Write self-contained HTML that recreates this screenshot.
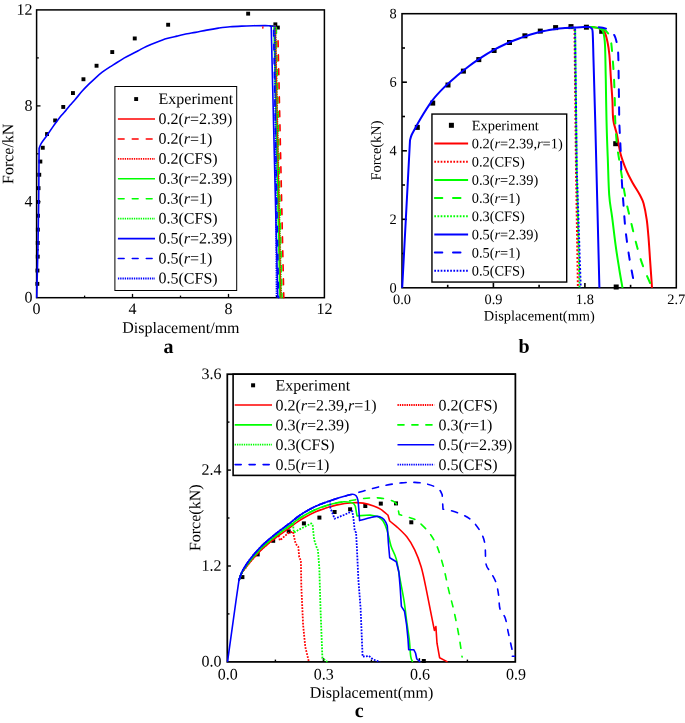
<!DOCTYPE html>
<html><head><meta charset="utf-8"><title>Force-displacement curves</title>
<style>
html,body{margin:0;padding:0;background:#fff;}
body{width:685px;height:723px;overflow:hidden;}
svg{display:block;font-family:"Liberation Serif",serif;fill:#000;will-change:transform;transform:translateZ(0);}
</style></head><body>
<svg width="685" height="723" viewBox="0 0 685 723">
<rect width="685" height="723" fill="#fff"/>
<g id="a">
<rect x="36.6" y="9.9" width="287.8" height="287.8" fill="none" stroke="#000" stroke-width="1.5"/>
<line x1="84.6" y1="297.8" x2="84.6" y2="295.6" stroke="#000" stroke-width="1.3"/>
<line x1="132.5" y1="297.8" x2="132.5" y2="293.9" stroke="#000" stroke-width="1.3"/>
<line x1="180.5" y1="297.8" x2="180.5" y2="295.6" stroke="#000" stroke-width="1.3"/>
<line x1="228.5" y1="297.8" x2="228.5" y2="293.9" stroke="#000" stroke-width="1.3"/>
<line x1="276.5" y1="297.8" x2="276.5" y2="295.6" stroke="#000" stroke-width="1.3"/>
<line x1="36.6" y1="249.8" x2="38.8" y2="249.8" stroke="#000" stroke-width="1.3"/>
<line x1="36.6" y1="201.8" x2="40.5" y2="201.8" stroke="#000" stroke-width="1.3"/>
<line x1="36.6" y1="153.8" x2="38.8" y2="153.8" stroke="#000" stroke-width="1.3"/>
<line x1="36.6" y1="105.9" x2="40.5" y2="105.9" stroke="#000" stroke-width="1.3"/>
<line x1="36.6" y1="57.9" x2="38.8" y2="57.9" stroke="#000" stroke-width="1.3"/>
<rect x="40.8" y="145.8" width="3.9" height="3.9" fill="#000"/>
<rect x="38.4" y="159.6" width="3.9" height="3.9" fill="#000"/>
<rect x="37.3" y="172.8" width="3.9" height="3.9" fill="#000"/>
<rect x="36.6" y="186.2" width="3.9" height="3.9" fill="#000"/>
<rect x="36.2" y="200" width="3.9" height="3.9" fill="#000"/>
<rect x="36" y="213.8" width="3.9" height="3.9" fill="#000"/>
<rect x="35.9" y="227.7" width="3.9" height="3.9" fill="#000"/>
<rect x="35.8" y="241" width="3.9" height="3.9" fill="#000"/>
<rect x="35.8" y="254.7" width="3.9" height="3.9" fill="#000"/>
<rect x="35.5" y="268.6" width="3.9" height="3.9" fill="#000"/>
<rect x="35.4" y="281.9" width="3.9" height="3.9" fill="#000"/>
<rect x="45.1" y="132.1" width="3.9" height="3.9" fill="#000"/>
<rect x="53.2" y="118.5" width="3.9" height="3.9" fill="#000"/>
<rect x="61.3" y="105" width="3.9" height="3.9" fill="#000"/>
<rect x="71" y="91.1" width="3.9" height="3.9" fill="#000"/>
<rect x="81.5" y="77.3" width="3.9" height="3.9" fill="#000"/>
<rect x="94.6" y="63.8" width="3.9" height="3.9" fill="#000"/>
<rect x="110.3" y="50.1" width="3.9" height="3.9" fill="#000"/>
<rect x="132.8" y="36.5" width="3.9" height="3.9" fill="#000"/>
<rect x="166.2" y="22.8" width="3.9" height="3.9" fill="#000"/>
<rect x="246.2" y="11.7" width="3.9" height="3.9" fill="#000"/>
<rect x="273.4" y="22.4" width="3.9" height="3.9" fill="#000"/>
<rect x="275.9" y="25.6" width="3.9" height="3.9" fill="#000"/>
<path d="M269.7 25.8 L275 26.2 L280.6 297.8" fill="none" stroke="#ff0000" stroke-width="1.6" stroke-linejoin="round"/>
<path d="M269.7 25.8 L274 26.2 L280 297.8" fill="none" stroke="#00ff00" stroke-width="1.6" stroke-linejoin="round"/>
<path d="M269.7 25.8 L276.3 26.2 L282 297.8" fill="none" stroke="#00ff00" stroke-width="1.6" stroke-dasharray="5.8 8.2" stroke-linecap="round" stroke-dashoffset="6.1" stroke-linejoin="round"/>
<path d="M269.7 25.8 L275.3 26.2 L281.3 297.8" fill="none" stroke="#00ff00" stroke-width="1.79" stroke-dasharray="1.35 0.93" stroke-dashoffset="2" stroke-linejoin="round"/>
<path d="M269.7 25.8 L275.6 26.2 L280.9 297.8" fill="none" stroke="#ff0000" stroke-width="1.23" stroke-dasharray="1.35 0.93" stroke-dashoffset="2" stroke-linejoin="round"/>
<path d="M277.9 34 L283.8 297.8" fill="none" stroke="#ff0000" stroke-width="1.6" stroke-dasharray="5.8 8.2" stroke-linecap="round" stroke-dashoffset="7.1" stroke-linejoin="round"/>
<path d="M269.7 25.8 L273.5 26.2 L278.6 297.8" fill="none" stroke="#0000ff" stroke-width="1.6" stroke-dasharray="5.8 8.2" stroke-linecap="round" stroke-dashoffset="6.1" stroke-linejoin="round"/>
<path d="M36.7 297.8 L37.9 250 L38.7 202 L39 162 L39.1 148.4 C39.4 147.6 39.9 145.6 41.1 143.6 C42.3 141.6 44.5 138.9 46.4 136.2 C48.3 133.5 50.8 129.9 52.5 127.4 C54.2 124.9 55.4 123.3 56.9 121.3 C58.4 119.3 59.8 117.4 61.3 115.6 C62.8 113.8 64.2 112.3 65.7 110.6 C67.2 108.9 68.5 107.1 70 105.3 C71.5 103.5 73 102 75 99.7 C77 97.4 79.8 93.8 82 91.3 C84.2 88.8 85.9 87.1 88.1 84.9 C90.3 82.7 92.8 80.4 95.1 78.3 C97.4 76.2 99.7 74.1 102.2 72.2 C104.7 70.3 107.5 68.5 110 66.9 C112.5 65.3 114.7 64 117 62.5 C119.3 61 121.8 59.4 124 58.1 C126.2 56.9 127.6 56.2 130 55 C132.4 53.8 135.5 52.1 138.2 50.7 C140.9 49.3 143.2 47.8 146.3 46.4 C149.4 45 153.2 43.5 156.6 42.2 C160 40.9 163.4 39.6 166.8 38.6 C170.2 37.6 173.6 36.9 177 36.1 C180.4 35.3 184.1 34.4 187.2 33.8 C190.3 33.2 192.2 33 195.4 32.4 C198.7 31.8 202.9 30.8 206.7 30.1 C210.5 29.4 214.5 28.7 218.4 28.1 C222.3 27.6 226.1 27.1 230 26.8 C233.9 26.5 237.8 26.3 241.7 26.1 C245.6 25.9 249.5 25.8 253.4 25.7 C257.3 25.6 262.4 25.6 265.1 25.6 C267.8 25.6 268.9 25.8 269.7 25.8 L271.2 26.2 L277.8 297.8" fill="none" stroke="#0000ff" stroke-width="1.6" stroke-linejoin="round"/>
<path d="M269.7 25.8 L274.8 26.2 L276.6 297.8" fill="none" stroke="#0000ff" stroke-width="1.79" stroke-dasharray="1.35 0.93" stroke-dashoffset="2" stroke-linejoin="round"/>
<path d="M262.8 26.4 L262.9 28.6" fill="none" stroke="#ff0000" stroke-width="1.4" stroke-linejoin="round"/>
<text transform="translate(36.60 314.00) rotate(0.03)" font-size="16" text-anchor="middle" font-weight="normal">0</text>
<text transform="translate(32.40 302.55) rotate(0.03)" font-size="16" text-anchor="end" font-weight="normal">0</text>
<text transform="translate(132.55 314.00) rotate(0.03)" font-size="16" text-anchor="middle" font-weight="normal">4</text>
<text transform="translate(32.40 206.62) rotate(0.03)" font-size="16" text-anchor="end" font-weight="normal">4</text>
<text transform="translate(228.50 314.00) rotate(0.03)" font-size="16" text-anchor="middle" font-weight="normal">8</text>
<text transform="translate(32.40 110.68) rotate(0.03)" font-size="16" text-anchor="end" font-weight="normal">8</text>
<text transform="translate(324.45 314.00) rotate(0.03)" font-size="16" text-anchor="middle" font-weight="normal">12</text>
<text transform="translate(32.40 14.75) rotate(0.03)" font-size="16" text-anchor="end" font-weight="normal">12</text>
<text transform="translate(13.30 153.80) rotate(-89.97)" font-size="16" text-anchor="middle">Force/kN</text>
<text transform="translate(180.90 332.90) rotate(0.03)" font-size="16" text-anchor="middle" font-weight="normal">Displacement/mm</text>
<text transform="translate(168.50 353.00) rotate(0.03)" font-size="20" text-anchor="middle" font-weight="bold">a</text>
<rect x="114.9" y="86.5" width="121.8" height="204" fill="#fff" stroke="#000" stroke-width="1"/>
<rect x="134.2" y="97.1" width="3.9" height="3.9" fill="#000"/>
<text transform="translate(158.50 104.00) rotate(0.03)" font-size="16" text-anchor="start" font-weight="normal">Experiment</text>
<path d="M117.9 119 L155 119" fill="none" stroke="#ff0000" stroke-width="1.6" stroke-linejoin="round"/>
<text transform="translate(158.50 123.93) rotate(0.03)" font-size="16" text-anchor="start" font-weight="normal">0.2(<tspan font-style="italic">r</tspan>=2.39)</text>
<path d="M118.3 139 L155 139" fill="none" stroke="#ff0000" stroke-width="1.6" stroke-dasharray="5.8 8.2" stroke-linecap="round" stroke-linejoin="round"/>
<text transform="translate(158.50 143.86) rotate(0.03)" font-size="16" text-anchor="start" font-weight="normal">0.2(<tspan font-style="italic">r</tspan>=1)</text>
<path d="M117.9 158.9 L155 158.9" fill="none" stroke="#ff0000" stroke-width="1.79" stroke-dasharray="1.35 0.93" stroke-linejoin="round"/>
<text transform="translate(158.50 163.79) rotate(0.03)" font-size="16" text-anchor="start" font-weight="normal">0.2(CFS)</text>
<path d="M117.9 178.8 L155 178.8" fill="none" stroke="#00ff00" stroke-width="1.6" stroke-linejoin="round"/>
<text transform="translate(158.50 183.72) rotate(0.03)" font-size="16" text-anchor="start" font-weight="normal">0.3(<tspan font-style="italic">r</tspan>=2.39)</text>
<path d="M118.3 198.8 L155 198.8" fill="none" stroke="#00ff00" stroke-width="1.6" stroke-dasharray="5.8 8.2" stroke-linecap="round" stroke-linejoin="round"/>
<text transform="translate(158.50 203.65) rotate(0.03)" font-size="16" text-anchor="start" font-weight="normal">0.3(<tspan font-style="italic">r</tspan>=1)</text>
<path d="M117.9 218.7 L155 218.7" fill="none" stroke="#00ff00" stroke-width="1.79" stroke-dasharray="1.35 0.93" stroke-linejoin="round"/>
<text transform="translate(158.50 223.58) rotate(0.03)" font-size="16" text-anchor="start" font-weight="normal">0.3(CFS)</text>
<path d="M117.9 238.6 L155 238.6" fill="none" stroke="#0000ff" stroke-width="1.6" stroke-linejoin="round"/>
<text transform="translate(158.50 243.51) rotate(0.03)" font-size="16" text-anchor="start" font-weight="normal">0.5(<tspan font-style="italic">r</tspan>=2.39)</text>
<path d="M118.3 258.5 L155 258.5" fill="none" stroke="#0000ff" stroke-width="1.6" stroke-dasharray="5.8 8.2" stroke-linecap="round" stroke-linejoin="round"/>
<text transform="translate(158.50 263.44) rotate(0.03)" font-size="16" text-anchor="start" font-weight="normal">0.5(<tspan font-style="italic">r</tspan>=1)</text>
<path d="M117.9 278.5 L155 278.5" fill="none" stroke="#0000ff" stroke-width="1.79" stroke-dasharray="1.35 0.93" stroke-linejoin="round"/>
<text transform="translate(158.50 283.37) rotate(0.03)" font-size="16" text-anchor="start" font-weight="normal">0.5(CFS)</text>
</g>
<g id="b">
<rect x="402" y="13.7" width="274.3" height="274.1" fill="none" stroke="#000" stroke-width="1.55"/>
<line x1="447.7" y1="287.8" x2="447.7" y2="284.8" stroke="#000" stroke-width="1.6"/>
<line x1="493.4" y1="287.8" x2="493.4" y2="282.9" stroke="#000" stroke-width="1.6"/>
<line x1="539.1" y1="287.8" x2="539.1" y2="284.8" stroke="#000" stroke-width="1.6"/>
<line x1="584.9" y1="287.8" x2="584.9" y2="282.9" stroke="#000" stroke-width="1.6"/>
<line x1="630.6" y1="287.8" x2="630.6" y2="284.8" stroke="#000" stroke-width="1.6"/>
<line x1="402" y1="253.5" x2="405" y2="253.5" stroke="#000" stroke-width="1.6"/>
<line x1="402" y1="219.3" x2="406.9" y2="219.3" stroke="#000" stroke-width="1.6"/>
<line x1="402" y1="185" x2="405" y2="185" stroke="#000" stroke-width="1.6"/>
<line x1="402" y1="150.8" x2="406.9" y2="150.8" stroke="#000" stroke-width="1.6"/>
<line x1="402" y1="116.5" x2="405" y2="116.5" stroke="#000" stroke-width="1.6"/>
<line x1="402" y1="82.2" x2="406.9" y2="82.2" stroke="#000" stroke-width="1.6"/>
<line x1="402" y1="48" x2="405" y2="48" stroke="#000" stroke-width="1.6"/>
<rect x="414.8" y="124.9" width="5" height="5" fill="#000"/>
<rect x="430.2" y="100.6" width="5" height="5" fill="#000"/>
<rect x="445.5" y="82.5" width="5" height="5" fill="#000"/>
<rect x="460.9" y="68.6" width="5" height="5" fill="#000"/>
<rect x="476.3" y="57.1" width="5" height="5" fill="#000"/>
<rect x="491.6" y="48" width="5" height="5" fill="#000"/>
<rect x="507" y="40" width="5" height="5" fill="#000"/>
<rect x="522.4" y="33.3" width="5" height="5" fill="#000"/>
<rect x="537.8" y="28.6" width="5" height="5" fill="#000"/>
<rect x="553.1" y="25.1" width="5" height="5" fill="#000"/>
<rect x="568.5" y="24.1" width="5" height="5" fill="#000"/>
<rect x="583.9" y="24.7" width="5" height="5" fill="#000"/>
<rect x="599.2" y="28.8" width="5" height="5" fill="#000"/>
<rect x="613.2" y="141.2" width="5" height="5" fill="#000"/>
<rect x="613.7" y="284.5" width="5" height="5" fill="#000"/>
<path d="M583.8 27 C585.5 27.1 591.3 27.1 594 27.3 C596.7 27.6 598.2 27.7 600 28.5 C601.8 29.3 603.2 29.8 604.5 32 C605.8 34.2 606.7 38.2 607.5 42 C608.3 45.8 608.8 48.7 609.4 55 C610 61.3 610.5 72.5 611 80 C611.5 87.5 612 93.3 612.4 100 C612.8 106.7 612.5 114.2 613.3 120 C614 125.8 615.7 128.8 616.9 134.5 C618.1 140.2 619 147.8 620.6 153.9 C622.2 160 624.6 166 626.6 170.8 C628.6 175.6 630.5 178.9 632.7 182.9 C634.9 186.9 638.1 191.6 639.9 195 C641.7 198.4 642.5 199.4 643.6 203.5 C644.7 207.6 645.9 213.9 646.7 219.3 C647.5 224.8 647.8 229.3 648.4 236.2 C649 243 649.5 251.8 650.1 260.4 C650.7 269 651.7 283.2 652 287.8" fill="none" stroke="#ff0000" stroke-width="2.0" stroke-linejoin="round"/>
<path d="M565 28.1 C566.2 28 571.2 27.6 572.5 27.4 L574.5 29 L576 170 L577.9 287.8" fill="none" stroke="#ff0000" stroke-width="2.0" stroke-dasharray="1.95 1.91" stroke-dashoffset="1.2" stroke-linejoin="round"/>
<path d="M583.8 27 C585.5 27.1 591.3 27 594 27.3 C596.7 27.6 598.5 27.9 600 28.7 C601.5 29.5 602.4 29.3 603.2 32 C604 34.7 604.6 37 605 45 C605.4 53 605.5 67.5 605.8 80 C606 92.5 606.2 107.3 606.5 120 C606.8 132.7 607.2 143.8 607.7 156.3 C608.2 168.8 608.5 184.9 609.2 195 C609.9 205.1 611 208.3 612.1 216.8 C613.2 225.3 614.5 237 615.7 245.9 C616.9 254.8 618.3 263 619.4 270 C620.5 277 622 284.8 622.5 287.8" fill="none" stroke="#00ff00" stroke-width="2.0" stroke-linejoin="round"/>
<path d="M583.8 27 C585.8 27.1 592.8 27 596 27.3 C599.2 27.6 601 27.9 603 28.9 C605 29.8 606.5 31.1 607.8 33 C609.1 34.9 610 35.5 610.8 40 C611.6 44.5 612.2 53.3 612.8 60 C613.3 66.7 613.8 73.3 614.1 80 C614.4 86.7 614.6 93.3 614.8 100 C615 106.7 614.9 112.6 615.2 120 C615.6 127.4 616 136.1 616.9 144.2 C617.8 152.3 619.2 159.5 620.6 168.4 C622 177.3 623.6 188.2 625.4 197.5 C627.2 206.8 629.5 215.6 631.5 224.1 C633.5 232.6 635.5 241 637.5 248.3 C639.5 255.6 641.2 261.4 643.6 267.7 C646 274 650.3 283.3 651.6 286.4" fill="none" stroke="#00ff00" stroke-width="2.0" stroke-dasharray="7.5 10.7" stroke-linecap="round" stroke-dashoffset="17.6" stroke-linejoin="round"/>
<path d="M565 28.1 C566.2 28 571.2 27.6 572.5 27.4 L575.1 29 L576.7 170 L579.6 287.8" fill="none" stroke="#00ff00" stroke-width="2.0" stroke-dasharray="1.95 1.91" stroke-dashoffset="3.1" stroke-linejoin="round"/>
<path d="M583.8 27 C586.2 27 594.2 26.9 598 27.2 C601.8 27.5 604 27.9 606.3 28.7 C608.6 29.5 610.5 30.4 612 32 C613.5 33.5 614.6 35.3 615.5 38 C616.4 40.7 617.1 44.3 617.6 48 C618.1 51.7 618.2 51.3 618.4 60 C618.6 68.7 618.8 89.2 619 100 C619.2 110.8 619.1 116.6 619.4 124.8 C619.7 133 620.2 139.7 620.6 149 C621 158.3 621.3 171.2 621.8 180.5 C622.3 189.8 622.9 196.6 623.5 204.7 C624.1 212.8 624.5 220.4 625.4 228.9 C626.3 237.4 627.7 247.1 629 255.6 C630.3 264.1 632.7 275.8 633.4 279.8" fill="none" stroke="#0000ff" stroke-width="2.0" stroke-dasharray="7.5 10.7" stroke-linecap="round" stroke-dashoffset="3.4" stroke-linejoin="round"/>
<path d="M402.2 287.8 L410 140.2 C410.3 139.3 410.8 136.9 411.6 135 C412.5 133.1 413.7 131.1 415.1 128.5 C416.5 125.9 417.4 123.9 420.2 119.2 C423 114.5 428.1 106 432.2 100.6 C436.3 95.2 440.5 91 444.6 86.9 C448.7 82.8 452.9 79.3 457 75.8 C461.1 72.3 465.4 68.9 469.5 65.8 C473.6 62.7 477.8 59.9 481.9 57.2 C486 54.5 490.2 52 494.3 49.7 C498.4 47.4 502.6 45.4 506.7 43.5 C510.8 41.6 515 40 519.1 38.5 C523.2 37 527.4 35.5 531.5 34.3 C535.6 33.1 539.8 32 543.9 31.1 C548 30.2 552.8 29.5 556.3 29 C559.8 28.5 562 28.4 565 28.1 C568 27.8 570.9 27.5 574 27.4 C577.1 27.2 582.2 27.1 583.8 27 C584.8 27 588.2 26.9 589.5 27.1 C590.8 27.4 591.1 27.5 591.6 28.5 C592.1 29.5 592.4 27.8 592.7 33 C593 38.2 593.1 45.5 593.5 60 C593.9 74.5 594.2 82 595.2 120 C596.2 158 598.7 259.8 599.4 287.8" fill="none" stroke="#0000ff" stroke-width="2.0" stroke-linejoin="round"/>
<path d="M565 28.1 C566.2 28 571.2 27.6 572.5 27.4 L575.1 29 L576.8 170 L580.7 287.8" fill="none" stroke="#0000ff" stroke-width="2.0" stroke-dasharray="1.95 1.91" stroke-dashoffset="1.2" stroke-linejoin="round"/>
<text transform="translate(402.00 304.05) rotate(0.03)" font-size="14.4" text-anchor="middle" font-weight="normal">0.0</text>
<text transform="translate(493.43 304.05) rotate(0.03)" font-size="14.4" text-anchor="middle" font-weight="normal">0.9</text>
<text transform="translate(584.87 304.05) rotate(0.03)" font-size="14.4" text-anchor="middle" font-weight="normal">1.8</text>
<text transform="translate(676.30 304.05) rotate(0.03)" font-size="14.4" text-anchor="middle" font-weight="normal">2.7</text>
<text transform="translate(396.80 292.40) rotate(0.03)" font-size="14.4" text-anchor="end" font-weight="normal">0</text>
<text transform="translate(396.80 223.88) rotate(0.03)" font-size="14.4" text-anchor="end" font-weight="normal">2</text>
<text transform="translate(396.80 155.35) rotate(0.03)" font-size="14.4" text-anchor="end" font-weight="normal">4</text>
<text transform="translate(396.80 86.82) rotate(0.03)" font-size="14.4" text-anchor="end" font-weight="normal">6</text>
<text transform="translate(396.80 18.30) rotate(0.03)" font-size="14.4" text-anchor="end" font-weight="normal">8</text>
<text transform="translate(380.80 150.50) rotate(-89.97)" font-size="14.4" text-anchor="middle">Force(kN)</text>
<text transform="translate(539.30 320.60) rotate(0.03)" font-size="14.4" text-anchor="middle" font-weight="normal">Displacement(mm)</text>
<text transform="translate(524.00 352.80) rotate(0.03)" font-size="20" text-anchor="middle" font-weight="bold">b</text>
<rect x="431.95" y="114.05" width="134.75" height="168.0" fill="#fff" stroke="#000" stroke-width="1.4"/>
<rect x="448.9" y="122.8" width="5" height="5" fill="#000"/>
<text transform="translate(471.70 130.15) rotate(0.03)" font-size="14.4" text-anchor="start" font-weight="normal">Experiment</text>
<path d="M434.3 143.5 L468.1 143.5" fill="none" stroke="#ff0000" stroke-width="2.0" stroke-linejoin="round"/>
<text transform="translate(471.70 148.33) rotate(0.03)" font-size="14.4" text-anchor="start" font-weight="normal">0.2(<tspan font-style="italic">r</tspan>=2.39,<tspan font-style="italic">r</tspan>=1)</text>
<path d="M434.3 161.7 L468.1 161.7" fill="none" stroke="#ff0000" stroke-width="2.0" stroke-dasharray="1.7 1.48" stroke-linejoin="round"/>
<text transform="translate(471.70 166.51) rotate(0.03)" font-size="14.4" text-anchor="start" font-weight="normal">0.2(CFS)</text>
<path d="M434.3 179.9 L468.1 179.9" fill="none" stroke="#00ff00" stroke-width="2.0" stroke-linejoin="round"/>
<text transform="translate(471.70 184.69) rotate(0.03)" font-size="14.4" text-anchor="start" font-weight="normal">0.3(<tspan font-style="italic">r</tspan>=2.39)</text>
<path d="M434.8 198.1 L468.1 198.1" fill="none" stroke="#00ff00" stroke-width="2.0" stroke-dasharray="7.5 10.7" stroke-linecap="round" stroke-linejoin="round"/>
<text transform="translate(471.70 202.87) rotate(0.03)" font-size="14.4" text-anchor="start" font-weight="normal">0.3(<tspan font-style="italic">r</tspan>=1)</text>
<path d="M434.3 216.2 L468.1 216.2" fill="none" stroke="#00ff00" stroke-width="2.0" stroke-dasharray="1.7 1.48" stroke-linejoin="round"/>
<text transform="translate(471.70 221.05) rotate(0.03)" font-size="14.4" text-anchor="start" font-weight="normal">0.3(CFS)</text>
<path d="M434.3 234.4 L468.1 234.4" fill="none" stroke="#0000ff" stroke-width="2.0" stroke-linejoin="round"/>
<text transform="translate(471.70 239.23) rotate(0.03)" font-size="14.4" text-anchor="start" font-weight="normal">0.5(<tspan font-style="italic">r</tspan>=2.39)</text>
<path d="M434.8 252.6 L468.1 252.6" fill="none" stroke="#0000ff" stroke-width="2.0" stroke-dasharray="7.5 10.7" stroke-linecap="round" stroke-linejoin="round"/>
<text transform="translate(471.70 257.41) rotate(0.03)" font-size="14.4" text-anchor="start" font-weight="normal">0.5(<tspan font-style="italic">r</tspan>=1)</text>
<path d="M434.3 270.8 L468.1 270.8" fill="none" stroke="#0000ff" stroke-width="2.0" stroke-dasharray="1.7 1.48" stroke-linejoin="round"/>
<text transform="translate(471.70 275.59) rotate(0.03)" font-size="14.4" text-anchor="start" font-weight="normal">0.5(CFS)</text>
</g>
<g id="c">
<rect x="227.3" y="374.2" width="288" height="287.7" fill="none" stroke="#000" stroke-width="1.75"/>
<line x1="275.4" y1="661.9" x2="275.4" y2="659.6" stroke="#000" stroke-width="1.4"/>
<line x1="323.4" y1="661.9" x2="323.4" y2="658.2" stroke="#000" stroke-width="1.4"/>
<line x1="371.4" y1="661.9" x2="371.4" y2="659.6" stroke="#000" stroke-width="1.4"/>
<line x1="419.4" y1="661.9" x2="419.4" y2="658.2" stroke="#000" stroke-width="1.4"/>
<line x1="467.4" y1="661.9" x2="467.4" y2="659.6" stroke="#000" stroke-width="1.4"/>
<line x1="227.3" y1="613.9" x2="229.5" y2="613.9" stroke="#000" stroke-width="1.4"/>
<line x1="227.3" y1="566" x2="230.9" y2="566" stroke="#000" stroke-width="1.4"/>
<line x1="227.3" y1="518" x2="229.5" y2="518" stroke="#000" stroke-width="1.4"/>
<line x1="227.3" y1="470.1" x2="230.9" y2="470.1" stroke="#000" stroke-width="1.4"/>
<line x1="227.3" y1="422.1" x2="229.5" y2="422.1" stroke="#000" stroke-width="1.4"/>
<rect x="240.4" y="575.1" width="4" height="4" fill="#000"/>
<rect x="255.7" y="552.4" width="4" height="4" fill="#000"/>
<rect x="271.2" y="538.8" width="4" height="4" fill="#000"/>
<rect x="286.7" y="529.4" width="4" height="4" fill="#000"/>
<rect x="301.9" y="521.4" width="4" height="4" fill="#000"/>
<rect x="317.4" y="515.6" width="4" height="4" fill="#000"/>
<rect x="332.6" y="510" width="4" height="4" fill="#000"/>
<rect x="348.1" y="507.3" width="4" height="4" fill="#000"/>
<rect x="363.3" y="504" width="4" height="4" fill="#000"/>
<rect x="378.8" y="501.6" width="4" height="4" fill="#000"/>
<rect x="394" y="501.4" width="4" height="4" fill="#000"/>
<rect x="409.3" y="520.3" width="4" height="4" fill="#000"/>
<rect x="421.8" y="659" width="4" height="4" fill="#000"/>
<path d="M238.9 580.6 C239.4 579.3 240.7 575.1 241.9 572.9 C243.1 570.7 244.6 569.2 246 567.3 C247.4 565.4 248.9 563.4 250.6 561.4 C252.3 559.4 254.1 557.3 256 555.3 C257.9 553.2 259.8 551.2 262 549.1 C264.2 547 266.8 544.9 269.1 542.9 C271.5 540.9 273.8 539.2 276.1 537.4 C278.5 535.6 280.8 534 283.2 532.3 C285.6 530.6 287.9 529 290.3 527.3 C292.7 525.5 295 523.5 297.5 521.8 C300 520.1 302.4 518.7 305.4 517 C308.4 515.3 312.3 513.2 315.7 511.7 C319.1 510.2 322.5 509.2 325.9 508.1 C329.3 507 331.7 506 336.1 505.1 C340.6 504.2 348.1 503.1 352.6 502.8 C357.1 502.5 359.6 502.6 363.1 503.1 C366.6 503.6 370.7 504.9 373.6 505.9 C376.5 506.9 378.1 507.6 380.5 509.2 C382.9 510.8 386.8 514.2 388 515.2 L389.7 521 L396.3 526.3 C398.1 528 403.7 532.9 406.8 536.8 C409.9 540.7 412.3 544.9 414.7 549.9 C417.1 554.9 419.2 560.2 421.2 567 C423.2 573.8 424.8 582.3 426.5 590.6 C428.2 598.9 430.4 610.3 431.7 616.9 C433 623.5 433.9 628.1 434.4 630.4 L435.9 626.6 L437 643.2 L439.6 657.7 L447.5 661.9" fill="none" stroke="#ff0000" stroke-width="1.6" stroke-linejoin="round"/>
<path d="M238.9 580.6 C239.4 579.3 240.7 575.1 241.9 572.9 C243.1 570.7 244.6 569.2 246 567.3 C247.4 565.4 248.9 563.4 250.6 561.4 C252.3 559.4 254.1 557.3 256 555.3 C257.9 553.2 259.8 551.2 262 549.1 C264.2 547 266.8 544.9 269.1 542.9 C271.5 540.9 274.6 538.8 276.1 537.4 C277.6 536 277.8 534.9 278.1 534.4 L279.9 540.4 L287.8 533.4 L293 531.6 L293.9 536.1 L295.7 543.9 L298.3 546.6 L299.2 557.1 L300.9 560.6 L301.3 586 L303.1 624.9 L305.3 647 L308.9 661.9" fill="none" stroke="#ff0000" stroke-width="1.79" stroke-dasharray="1.75 1.33" stroke-dashoffset="2" stroke-linejoin="round"/>
<path d="M238.9 580.6 C239.4 579.2 240.7 574.9 241.9 572.5 C243.1 570.1 244.6 568.4 246 566.3 C247.4 564.2 248.9 562.2 250.6 560.1 C252.3 558 254.1 555.9 256 553.8 C257.9 551.7 259.8 549.6 262 547.5 C264.2 545.4 266.8 543.2 269.1 541.2 C271.5 539.2 273.8 537.4 276.1 535.6 C278.5 533.8 280.8 532.1 283.2 530.4 C285.6 528.7 287.9 527.1 290.3 525.3 C292.7 523.5 295 521.5 297.5 519.7 C300 518 302.4 516.5 305.4 514.8 C308.4 513.1 312.3 511 315.7 509.5 C319.1 508 322.5 506.9 325.9 505.8 C329.3 504.7 333.1 503.7 336.1 503 C339.1 502.3 341.5 501.8 343.8 501.7 C346.1 501.6 348.4 501.9 350 502.2 C351.6 502.5 352.7 502.9 353.6 503.6 C354.5 504.3 355.1 506 355.4 506.5 L357 515.9 L370.1 515 L377.9 516.5 C378.8 517.2 381.6 518.7 383.1 521 C384.6 523.3 385.8 526 387.1 530.2 C388.4 534.4 389.5 541.2 391 546 C392.5 550.8 394.8 553.4 396.3 559.1 C397.8 564.8 398.9 573.1 400.2 580.1 C401.5 587.1 403 594.2 404.1 601.2 C405.2 608.2 405.9 615.6 406.8 622.2 C407.7 628.8 408.8 634.9 409.4 640.6 C410 646.3 410.2 652.8 410.7 656.3 C411.2 659.8 412.3 660.9 412.6 661.9" fill="none" stroke="#00ff00" stroke-width="1.6" stroke-linejoin="round"/>
<path d="M238.9 580.6 C239.4 579.2 240.7 574.9 241.9 572.5 C243.1 570.1 244.6 568.4 246 566.3 C247.4 564.2 248.9 562.2 250.6 560.1 C252.3 558 254.1 555.9 256 553.8 C257.9 551.7 259.8 549.6 262 547.5 C264.2 545.4 266.8 543.2 269.1 541.2 C271.5 539.2 273.8 537.4 276.1 535.6 C278.5 533.8 280.8 532.1 283.2 530.4 C285.6 528.7 287.9 527.1 290.3 525.3 C292.7 523.5 295 521.5 297.5 519.7 C300 518 302.4 516.5 305.4 514.8 C308.4 513.1 312.3 511 315.7 509.5 C319.1 508 322.5 506.9 325.9 505.8 C329.3 504.7 333.1 503.7 336.1 503 C339.1 502.3 339.6 502.4 343.8 501.7 C348 501 357 499.4 361.4 498.8 C365.8 498.2 366.8 498.1 370 498 C373.2 497.9 376.8 497.6 380.5 498.1 C384.2 498.6 389.5 499.7 392.3 500.8 C395.1 501.9 396.4 504 397.2 504.6 L399.2 514.6 C401.1 515.2 407.6 516.8 410.8 518 C414 519.2 415.3 519.3 418.4 521.8 C421.5 524.3 426.4 529.1 429.5 533.2 C432.6 537.3 434.7 540.7 437 546.3 C439.3 551.9 441.5 559.6 443.5 567 C445.5 574.4 447 583.1 448.8 590.6 C450.6 598.1 452.4 603.8 454.1 611.7 C455.9 619.6 458 630.5 459.3 638 C460.6 645.5 461.6 653.8 462.1 657" fill="none" stroke="#00ff00" stroke-width="1.6" stroke-dasharray="6.1 7.9" stroke-linecap="round" stroke-dashoffset="12" stroke-linejoin="round"/>
<path d="M238.9 580.6 C239.4 579.2 240.7 574.9 241.9 572.5 C243.1 570.1 244.6 568.4 246 566.3 C247.4 564.2 248.9 562.2 250.6 560.1 C252.3 558 254.1 555.9 256 553.8 C257.9 551.7 259.8 549.6 262 547.5 C264.2 545.4 266.8 543.2 269.1 541.2 C271.5 539.2 273.8 537.4 276.1 535.6 C278.5 533.8 280.8 532.1 283.2 530.4 C285.6 528.7 288.7 526.6 290.3 525.3 C291.9 524 292.4 523.2 292.8 522.8 L293.9 532.6 L300 529.1 L311.4 523.4 L312.7 525.5 L314.1 539.6 L316.7 547.5 L317.9 550.1 L319.3 567.6 L320.5 608.3 L322.4 658.1 L327.4 661.9" fill="none" stroke="#00ff00" stroke-width="1.79" stroke-dasharray="1.75 1.33" stroke-dashoffset="2" stroke-linejoin="round"/>
<path d="M238.9 580.6 C239.4 579.2 240.7 574.6 241.9 572 C243.1 569.4 244.6 567.2 246 565 C247.4 562.8 248.9 560.7 250.6 558.5 C252.3 556.3 254.1 554.1 256 552 C257.9 549.9 259.8 547.7 262 545.6 C264.2 543.5 266.8 541.2 269.1 539.2 C271.5 537.2 273.8 535.4 276.1 533.5 C278.5 531.6 280.8 529.9 283.2 528.1 C285.6 526.3 287.9 524.6 290.3 522.8 C292.7 520.9 295 518.8 297.5 517 C300 515.2 302.4 513.6 305.4 511.8 C308.4 510 312.3 507.9 315.7 506.3 C319.1 504.7 322.5 503.4 325.9 502.2 C329.3 500.9 332.7 499.9 336.1 498.8 C339.5 497.7 343.6 496.5 346.3 495.7 C349.1 494.9 348.6 495.3 352.6 494.2 C356.6 493.1 364.6 490.6 370.1 489.1 C375.6 487.6 380.6 486.3 385.8 485.3 C391 484.3 396.7 483.4 401.5 482.9 C406.3 482.4 410.3 482.2 414.7 482.4 C419.1 482.6 423.9 483.1 427.8 484.2 C431.7 485.2 435.9 486.9 438.3 488.7 C440.7 490.4 441.6 493.7 442.2 494.7 L443 509.2 C444 509.3 445.7 509.1 448.8 510 C451.9 510.9 458 512.6 461.9 514.4 C465.8 516.2 469.3 518.1 472.4 521 C475.5 523.9 478.2 527.8 480.3 531.5 C482.4 535.2 483.8 537.8 484.8 543.3 C485.8 548.8 485.1 559.6 486.1 564.4 C487.1 569.2 489.1 569.1 490.8 572.2 C492.5 575.3 494.8 578.8 496.1 582.8 C497.4 586.8 498.1 591.5 498.7 595.9 C499.3 600.3 498.9 605.3 500 609 C501.1 612.7 503.9 614.2 505.3 618.2 C506.7 622.2 507.4 628.6 508.3 632.7 C509.2 636.8 510 640.1 510.6 643 C511.2 645.9 511.9 648.8 512.2 650" fill="none" stroke="#0000ff" stroke-width="1.6" stroke-dasharray="6.1 7.9" stroke-linecap="round" stroke-dashoffset="13.3" stroke-linejoin="round"/>
<path d="M512.3 656.2 L514.6 656.2" stroke="#0000ff" stroke-width="1.6" stroke-linecap="round"/>
<path d="M227.5 661.9 L236.1 600 L238.9 580.6 C239.4 579.2 240.7 574.6 241.9 572 C243.1 569.4 244.6 567.2 246 565 C247.4 562.8 248.9 560.7 250.6 558.5 C252.3 556.3 254.1 554.1 256 552 C257.9 549.9 259.8 547.7 262 545.6 C264.2 543.5 266.8 541.2 269.1 539.2 C271.5 537.2 273.8 535.4 276.1 533.5 C278.5 531.6 280.8 529.9 283.2 528.1 C285.6 526.3 287.9 524.6 290.3 522.8 C292.7 520.9 295 518.8 297.5 517 C300 515.2 302.4 513.6 305.4 511.8 C308.4 510 312.3 507.9 315.7 506.3 C319.1 504.7 322.5 503.4 325.9 502.2 C329.3 500.9 332.7 499.9 336.1 498.8 C339.5 497.7 343.6 496.5 346.3 495.7 C349.1 494.9 351 494.2 352.6 494.2 C354.2 494.2 355.2 494.8 356.1 495.8 C357 496.8 357.5 498.1 357.9 500.1 C358.3 502.1 358.6 506.7 358.7 508 L359.6 520.6 C361.4 520.1 367.2 518.4 370.1 517.7 C373 517 375.1 516.3 377.1 516.4 C379.2 516.5 381 517.3 382.4 518.2 C383.8 519.1 384.8 520.5 385.6 521.8 C386.4 523.1 387 525.3 387.3 526 L388.4 543.3 L389.7 557.8 L396.3 561.7 L398.9 572.2 L400.2 588 L401.4 606.4 L404.5 611.2 L406.6 625 L408 639 L408.7 649.6 L413.9 649.8 L415.5 653 L416.8 659 L420.3 661.9" fill="none" stroke="#0000ff" stroke-width="1.6" stroke-linejoin="round"/>
<path d="M238.9 580.6 C239.4 579.2 240.7 574.6 241.9 572 C243.1 569.4 244.6 567.2 246 565 C247.4 562.8 248.9 560.7 250.6 558.5 C252.3 556.3 254.1 554.1 256 552 C257.9 549.9 259.8 547.7 262 545.6 C264.2 543.5 266.8 541.2 269.1 539.2 C271.5 537.2 273.8 535.4 276.1 533.5 C278.5 531.6 280.8 529.9 283.2 528.1 C285.6 526.3 287.9 524.6 290.3 522.8 C292.7 520.9 295 518.8 297.5 517 C300 515.2 302.4 513.6 305.4 511.8 C308.4 510 312.3 507.9 315.7 506.3 C319.1 504.7 323.5 503.1 325.9 502.2 C328.3 501.3 329.3 501 330 500.8 L330.4 508 L334.6 518.7 L343.8 515 L352.3 511.2 L353.5 518.5 L354.7 530.8 L356.1 532.6 L357 550.1 L358.4 580 L360.6 608.3 L362.6 656.7 L368.9 655.9 L373.1 659.5 L380 661.9" fill="none" stroke="#0000ff" stroke-width="1.79" stroke-dasharray="1.75 1.33" stroke-dashoffset="2" stroke-linejoin="round"/>
<text transform="translate(227.85 679.40) rotate(0.03)" font-size="16" text-anchor="middle" font-weight="normal">0.0</text>
<text transform="translate(323.87 679.40) rotate(0.03)" font-size="16" text-anchor="middle" font-weight="normal">0.3</text>
<text transform="translate(419.88 679.40) rotate(0.03)" font-size="16" text-anchor="middle" font-weight="normal">0.6</text>
<text transform="translate(515.90 679.40) rotate(0.03)" font-size="16" text-anchor="middle" font-weight="normal">0.9</text>
<text transform="translate(221.40 666.55) rotate(0.03)" font-size="16" text-anchor="end" font-weight="normal">0.0</text>
<text transform="translate(221.40 570.67) rotate(0.03)" font-size="16" text-anchor="end" font-weight="normal">1.2</text>
<text transform="translate(221.40 474.78) rotate(0.03)" font-size="16" text-anchor="end" font-weight="normal">2.4</text>
<text transform="translate(221.40 378.90) rotate(0.03)" font-size="16" text-anchor="end" font-weight="normal">3.6</text>
<text transform="translate(200.30 517.80) rotate(-89.97)" font-size="16" text-anchor="middle">Force(kN)</text>
<text transform="translate(371.50 697.70) rotate(0.03)" font-size="16" text-anchor="middle" font-weight="normal">Displacement(mm)</text>
<text transform="translate(359.20 717.00) rotate(0.03)" font-size="20" text-anchor="middle" font-weight="bold">c</text>
<rect x="233.1" y="374.2" width="282.2" height="101.2" fill="#fff" stroke="#000" stroke-width="1.6"/>
<rect x="251.1" y="383.3" width="4" height="4" fill="#000"/>
<text transform="translate(275.50 390.40) rotate(0.03)" font-size="16" text-anchor="start" font-weight="normal">Experiment</text>
<path d="M234.7 405 L272 405" fill="none" stroke="#ff0000" stroke-width="1.6" stroke-linejoin="round"/>
<text transform="translate(275.50 410.40) rotate(0.03)" font-size="16" text-anchor="start" font-weight="normal">0.2(<tspan font-style="italic">r</tspan>=2.39,<tspan font-style="italic">r</tspan>=1)</text>
<path d="M397.5 405 L434.2 405" fill="none" stroke="#ff0000" stroke-width="1.79" stroke-dasharray="1.35 0.93" stroke-linejoin="round"/>
<text transform="translate(438.50 410.40) rotate(0.03)" font-size="16" text-anchor="start" font-weight="normal">0.2(CFS)</text>
<path d="M234.7 424.9 L272 424.9" fill="none" stroke="#00ff00" stroke-width="1.6" stroke-linejoin="round"/>
<text transform="translate(275.50 430.25) rotate(0.03)" font-size="16" text-anchor="start" font-weight="normal">0.3(<tspan font-style="italic">r</tspan>=2.39)</text>
<path d="M397.9 424.9 L434.2 424.9" fill="none" stroke="#00ff00" stroke-width="1.6" stroke-dasharray="6.1 7.9" stroke-linecap="round" stroke-linejoin="round"/>
<text transform="translate(438.50 430.25) rotate(0.03)" font-size="16" text-anchor="start" font-weight="normal">0.3(<tspan font-style="italic">r</tspan>=1)</text>
<path d="M234.7 444.7 L272 444.7" fill="none" stroke="#00ff00" stroke-width="1.79" stroke-dasharray="1.35 0.93" stroke-linejoin="round"/>
<text transform="translate(275.50 450.10) rotate(0.03)" font-size="16" text-anchor="start" font-weight="normal">0.3(CFS)</text>
<path d="M397.5 444.7 L434.2 444.7" fill="none" stroke="#0000ff" stroke-width="1.6" stroke-linejoin="round"/>
<text transform="translate(438.50 450.10) rotate(0.03)" font-size="16" text-anchor="start" font-weight="normal">0.5(<tspan font-style="italic">r</tspan>=2.39)</text>
<path d="M235.1 464.6 L272 464.6" fill="none" stroke="#0000ff" stroke-width="1.6" stroke-dasharray="6.1 7.9" stroke-linecap="round" stroke-linejoin="round"/>
<text transform="translate(275.50 469.95) rotate(0.03)" font-size="16" text-anchor="start" font-weight="normal">0.5(<tspan font-style="italic">r</tspan>=1)</text>
<path d="M397.5 464.6 L434.2 464.6" fill="none" stroke="#0000ff" stroke-width="1.79" stroke-dasharray="1.35 0.93" stroke-linejoin="round"/>
<text transform="translate(438.50 469.95) rotate(0.03)" font-size="16" text-anchor="start" font-weight="normal">0.5(CFS)</text>
</g>
</svg>
</body></html>
